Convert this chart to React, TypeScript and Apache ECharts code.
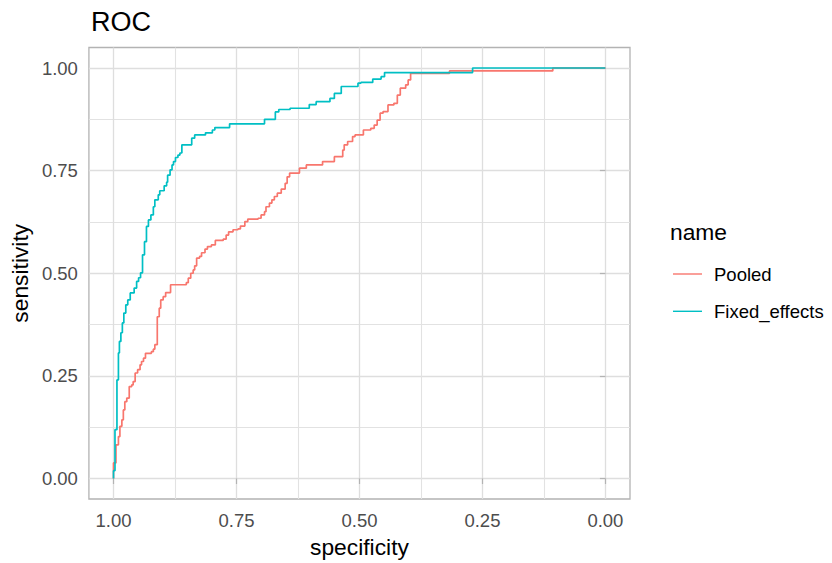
import React, { useEffect, useRef } from "react";
import * as echarts from "echarts";

const seriesNames = ["Pooled", "Fixed_effects"];
const seriesColors = ["#F8766D", "#00BFC4"];

const pooledSpec = [1.000,1.000,0.995,0.990,0.987,0.983,0.980,0.977,0.973,0.968,0.963,0.960,0.956,0.951,0.946,0.943,0.939,0.935,0.923,0.919,0.916,0.911,0.907,0.904,0.899,0.894,0.884,0.852,0.848,0.843,0.838,0.835,0.831,0.825,0.821,0.814,0.809,0.801,0.793,0.777,0.771,0.766,0.757,0.747,0.742,0.733,0.727,0.706,0.700,0.693,0.690,0.683,0.678,0.673,0.667,0.659,0.651,0.647,0.642,0.622,0.608,0.575,0.551,0.534,0.531,0.524,0.514,0.509,0.492,0.477,0.470,0.464,0.458,0.452,0.442,0.430,0.423,0.417,0.406,0.401,0.396,0.317,0.107,0.000];
const pooledSens = [0,0.038,0.082,0.102,0.127,0.143,0.167,0.187,0.196,0.224,0.228,0.236,0.257,0.265,0.277,0.285,0.293,0.305,0.309,0.315,0.326,0.394,0.415,0.435,0.443,0.453,0.472,0.477,0.488,0.500,0.508,0.518,0.537,0.541,0.550,0.559,0.565,0.569,0.580,0.583,0.593,0.601,0.606,0.608,0.615,0.626,0.632,0.634,0.642,0.650,0.662,0.671,0.679,0.687,0.695,0.705,0.719,0.735,0.744,0.756,0.764,0.772,0.784,0.800,0.813,0.821,0.833,0.837,0.849,0.853,0.861,0.873,0.890,0.894,0.910,0.914,0.934,0.951,0.959,0.971,0.987,0.993,1,1];

const fixedSpec = [1.000,1.000,0.997,0.993,0.990,0.988,0.985,0.982,0.979,0.975,0.971,0.966,0.958,0.953,0.949,0.945,0.941,0.937,0.933,0.929,0.924,0.919,0.916,0.909,0.906,0.897,0.892,0.890,0.885,0.881,0.878,0.874,0.869,0.865,0.861,0.841,0.835,0.813,0.799,0.794,0.764,0.693,0.671,0.664,0.641,0.602,0.588,0.560,0.551,0.537,0.503,0.497,0.473,0.456,0.449,0.270,0.000];
const fixedSens = [0,0.019,0.119,0.240,0.306,0.334,0.355,0.379,0.403,0.423,0.435,0.452,0.464,0.480,0.489,0.501,0.545,0.577,0.614,0.630,0.642,0.662,0.679,0.691,0.701,0.713,0.722,0.739,0.752,0.764,0.772,0.782,0.788,0.793,0.813,0.829,0.837,0.842,0.849,0.855,0.864,0.875,0.893,0.899,0.902,0.911,0.918,0.926,0.938,0.955,0.963,0.965,0.973,0.979,0.989,1,1];

const majorTicks = [0, 0.25, 0.5, 0.75, 1];
const minorTicks = [0.125, 0.375, 0.625, 0.875];

const FONT = "Arial, 'Liberation Sans', sans-serif";

export default function App() {
  const ref = useRef<HTMLDivElement>(null);
  useEffect(() => {
    if (!ref.current) return;
    const chart = echarts.init(ref.current, undefined, { renderer: "svg" });
    const zip = (xs: number[], ys: number[]) => xs.map((x, i) => [x, ys[i]]);
    const gridLine = { show: true, lineStyle: { color: "#DEDEDE", width: 1.3 } };
    const minorLine = { show: true, lineStyle: { color: "#E2E2E2", width: 1.1 } };
    const labelStyle = {
      color: "#4D4D4D",
      fontSize: 18.5,
      fontFamily: FONT,
      formatter: (v: number) => v.toFixed(2),
      customValues: majorTicks,
    };
    const tickStyle = { show: true, length: 5.5, lineStyle: { color: "#B3B3B3", width: 1.2 }, customValues: majorTicks };
    chart.setOption({
      animation: false,
      backgroundColor: "#FFFFFF",
      title: [
        { text: "ROC", left: 86, top: 3, textStyle: { fontSize: 27, fontWeight: "normal", color: "#000", fontFamily: FONT } },
        { text: "name", left: 665, top: 215, textStyle: { fontSize: 22.8, fontWeight: "normal", color: "#000", fontFamily: FONT } },
      ],
      legend: {
        orient: "vertical",
        left: 668,
        top: 259,
        itemWidth: 29,
        itemHeight: 20,
        itemGap: 17.3,
        icon: "path://M0,9.3 L29,9.3 L29,10.7 L0,10.7 Z",
        data: seriesNames,
        textStyle: { fontSize: 18.5, color: "#000", fontFamily: FONT, padding: [0, 0, 0, 7], lineHeight: 20 },
      },
      grid: { left: 87, top: 47.5, width: 543, height: 451.7, show: true, borderColor: "#B3B3B3", borderWidth: 1.3, backgroundColor: "transparent" },
      xAxis: [
        {
          type: "value", min: -0.05, max: 1.05, inverse: true, position: "bottom",
          axisLine: { show: false },
          axisTick: tickStyle,
          axisLabel: { ...labelStyle, margin: 12 },
          splitLine: gridLine,
          name: "specificity", nameLocation: "middle", nameGap: 36,
          nameTextStyle: { fontSize: 22.8, color: "#000", fontFamily: FONT },
        },
        {
          type: "value", min: -0.05, max: 1.05, inverse: true, position: "bottom",
          axisLine: { show: false },
          axisTick: { show: false, customValues: minorTicks },
          axisLabel: { show: false, customValues: minorTicks },
          splitLine: minorLine,
        },
      ],
      yAxis: [
        {
          type: "value", min: -0.05, max: 1.05, position: "left",
          axisLine: { show: false },
          axisTick: tickStyle,
          axisLabel: { ...labelStyle, margin: 11 },
          splitLine: gridLine,
          name: "sensitivity", nameLocation: "middle", nameGap: 54,
          nameTextStyle: { fontSize: 22.8, color: "#000", fontFamily: FONT },
        },
        {
          type: "value", min: -0.05, max: 1.05, position: "left",
          axisLine: { show: false },
          axisTick: { show: false, customValues: minorTicks },
          axisLabel: { show: false, customValues: minorTicks },
          splitLine: minorLine,
        },
      ],
      series: [
        {
          name: seriesNames[0], type: "line", step: "end", showSymbol: false, symbol: "none",
          xAxisIndex: 0, yAxisIndex: 0,
          data: zip(pooledSpec, pooledSens),
          itemStyle: { color: seriesColors[0] },
          lineStyle: { color: seriesColors[0], width: 1.7 },
        },
        {
          name: seriesNames[1], type: "line", step: "end", showSymbol: false, symbol: "none",
          xAxisIndex: 0, yAxisIndex: 0,
          data: zip(fixedSpec, fixedSens),
          itemStyle: { color: seriesColors[1] },
          lineStyle: { color: seriesColors[1], width: 1.7 },
        },
      ],
    });
    return () => chart.dispose();
  }, []);
  return <div ref={ref} style={{ width: 832, height: 563, position: "absolute", left: 0, top: 0 }} />;
}
